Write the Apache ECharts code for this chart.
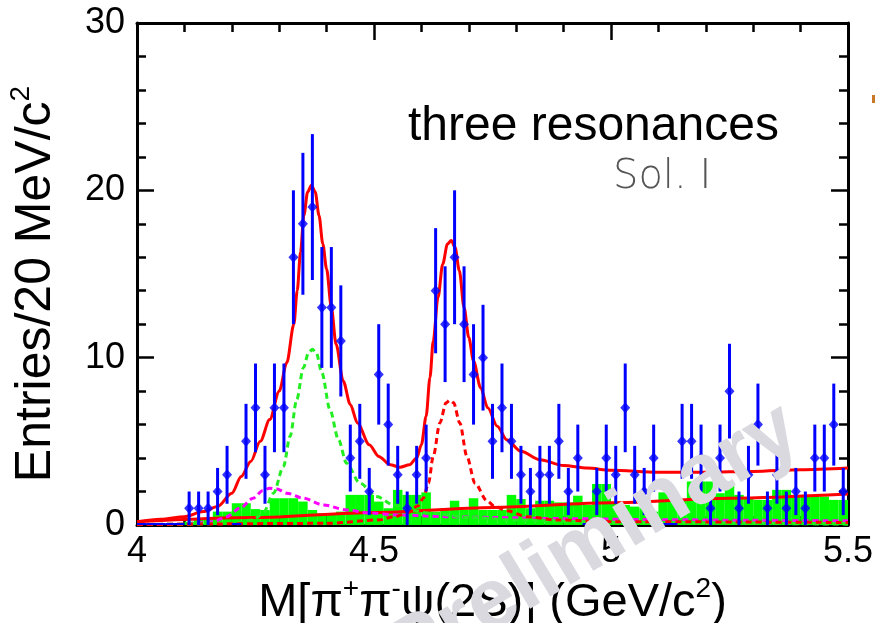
<!DOCTYPE html>
<html><head><meta charset="utf-8">
<script src="https://cdn.jsdelivr.net/npm/echarts@6/dist/echarts.min.js"></script>
<style>html,body{margin:0;padding:0;background:#fff}#c{width:876px;height:623px}</style>
</head><body><div id="c"></div>
<script>
// bin centers (20 MeV bins from 4.00 to 5.50 GeV)
const binCenters = [4.01,4.03,4.05,4.07,4.09,4.11,4.13,4.15,4.17,4.19,4.21,4.23,4.25,4.27,4.29,4.31,4.33,4.35,4.37,4.39,4.41,4.43,4.45,4.47,4.49,4.51,4.53,4.55,4.57,4.59,4.61,4.63,4.65,4.67,4.69,4.71,4.73,4.75,4.77,4.79,4.81,4.83,4.85,4.87,4.89,4.91,4.93,4.95,4.97,4.99,5.01,5.03,5.05,5.07,5.09,5.11,5.13,5.15,5.17,5.19,5.21,5.23,5.25,5.27,5.29,5.31,5.33,5.35,5.37,5.39,5.41,5.43,5.45,5.47,5.49];
const counts = [0,0,0,0,0,1,1,1,2,3,0,5,7,3,7,7,16,18,19,13,13,11,4,5,2,9,6,3,1,3,4,14,12,16,12,9,10,5,7,5,3,2,3,3,5,2,4,0,2,4,3,7,3,2,4,0,0,5,5,4,1,4,8,1,3,6,1,3,1,2,1,4,4,6,2];
const errs = [0,0,0,0,0,1,1,1,1.41,1.73,0,2.24,2.65,1.73,2.65,2.65,4,4.24,4.36,3.61,3.61,3.32,2,2.24,1.41,3,2.45,1.73,1,1.73,2,3.74,3.46,4,3.46,3,3.16,2.24,2.65,2.24,1.73,1.41,1.73,1.73,2.24,1.41,2,0,1.41,2,1.73,2.65,1.73,1.41,2,0,0,2.24,2.24,2,1,2,2.83,1,1.73,2.45,1,1.73,1,1.41,1,2,2,2.45,1.41];
const bkgHist = [0,0,0,0,0,0.2,0.3,0.4,0.8,0.8,1.3,1.3,0.95,0.9,1.6,1.6,1.6,1.4,0.9,0.7,0.6,0.8,1.8,1.8,1.8,1.4,1.0,2.1,1.8,1.8,1.95,0.8,1.0,1.45,0.9,1.6,0.9,0.9,0.9,1.8,1.55,1.0,1.45,1.45,1.35,1.35,1.75,1.2,2.45,2.45,1.3,1.2,1.1,1.0,0.8,1.95,1.95,1.5,2.6,2.6,2.6,1.9,2.45,1.8,1.6,1.5,1.5,2.1,2.1,1.8,1.8,1.8,1.7,1.5,1.5];
const halfBin = 0.01;

// fit curves: [mass, entries]
const totalFit = [[4.00,0.2],[4.05,0.35],[4.10,0.5],[4.14,0.8],[4.17,1.1],[4.20,1.9],[4.22,2.9],[4.24,3.8],[4.26,5.0],[4.28,6.3],[4.30,8.0],[4.316,9.7],[4.331,12.0],[4.338,14.0],[4.345,16.3],[4.352,18.5],[4.36,19.9],[4.368,20.3],[4.376,19.9],[4.384,18.5],[4.392,16.8],[4.40,15.3],[4.41,13.0],[4.42,10.8],[4.435,8.6],[4.45,7.2],[4.465,6.1],[4.49,4.8],[4.51,4.1],[4.534,3.6],[4.555,3.45],[4.575,3.6],[4.59,4.0],[4.60,4.8],[4.61,6.5],[4.618,8.8],[4.625,11.0],[4.635,13.6],[4.645,15.6],[4.655,16.8],[4.663,17.0],[4.671,16.6],[4.68,15.2],[4.69,13.0],[4.70,11.2],[4.71,9.8],[4.725,8.2],[4.74,7.0],[4.76,5.9],[4.78,5.1],[4.81,4.4],[4.85,3.9],[4.90,3.55],[4.95,3.4],[5.00,3.27],[5.10,3.15],[5.20,3.15],[5.30,3.2],[5.40,3.3],[5.50,3.4]];
const res1Fit = [[4.00,0.02],[4.10,0.05],[4.20,0.1],[4.245,0.3],[4.266,0.7],[4.288,1.9],[4.309,3.5],[4.323,5.3],[4.337,7.5],[4.351,9.4],[4.362,10.3],[4.37,10.5],[4.378,10.3],[4.39,9.1],[4.407,6.9],[4.425,5.1],[4.442,3.7],[4.47,2.5],[4.506,1.7],[4.541,1.2],[4.576,0.9],[4.62,0.7],[4.70,0.45],[4.80,0.3],[5.00,0.15],[5.50,0.05]];
const res2Fit = [[4.00,0.02],[4.10,0.05],[4.12,0.1],[4.161,0.2],[4.189,0.5],[4.217,1.0],[4.245,1.6],[4.265,2.05],[4.28,2.2],[4.295,2.15],[4.316,1.9],[4.351,1.6],[4.393,1.2],[4.442,0.9],[4.49,0.72],[4.55,0.6],[4.65,0.5],[4.75,0.45],[4.90,0.38],[5.10,0.32],[5.30,0.28],[5.50,0.25]];
const res3Fit = [[4.00,0.02],[4.40,0.1],[4.51,0.3],[4.544,0.5],[4.572,0.75],[4.593,1.15],[4.604,1.6],[4.615,2.5],[4.625,4.1],[4.639,6.1],[4.652,7.3],[4.66,7.45],[4.668,7.3],[4.681,6.1],[4.696,4.1],[4.713,2.5],[4.738,1.45],[4.755,1.1],[4.78,0.85],[4.822,0.5],[4.885,0.3],[5.00,0.2],[5.50,0.15]];
const bkgFit = [[4.00,0.2],[4.25,0.45],[4.50,0.75],[4.75,1.05],[5.00,1.33],[5.25,1.6],[5.50,1.85]];

const xTicks = {min:4, max:5.5, interval:0.5};
const yTicks = {min:0, max:30, interval:10};

const FONT = 'Liberation Sans';
const chart = echarts.init(document.getElementById('c'), null, {renderer:'canvas'});

function axisCommon(showLabel){
  return {
    axisLine:{show:true, onZero:false, lineStyle:{color:'#000', width:3}},
    axisTick:{show:true, inside:true, length:17, lineStyle:{color:'#000', width:2.5}},
    minorTick:{show:true, splitNumber:5, length:9, lineStyle:{color:'#000', width:2.5}},
    splitLine:{show:false}, minorSplitLine:{show:false},
    axisLabel:{show:showLabel, fontSize:36, color:'#000', fontFamily:FONT}
  };
}

const histData = binCenters.map((c,i)=>[c, bkgHist[i]]);
const errData = binCenters.map((c,i)=>[c, counts[i], errs[i]]);
const ptData = binCenters.map((c,i)=>[c, counts[i]]).filter(d=>d[1]>0);

function lineSeries(data, color, dashed, z){
  return {type:'line', data:data, showSymbol:false, symbol:'none', smooth:0.3, smoothMonotone:'x',
    lineStyle:{color:color, width:3, type: dashed ? [6,4] : 'solid'}, z:z, silent:true, clip:true};
}

const supStyle = {fontSize:28, fontFamily:FONT, color:'#000', verticalAlign:'top', lineHeight:30};

chart.setOption({
  animation:false,
  backgroundColor:'#fff',
  grid:{left:137, right:28, top:23, bottom:98, containLabel:false, outerBoundsMode:'none'},
  xAxis:[
    Object.assign({type:'value', position:'bottom', min:xTicks.min, max:xTicks.max, interval:xTicks.interval,
      name:'M[π{sup|+}π{sup|-}ψ(2S)] (GeV/c{sup|2})', nameLocation:'middle', nameGap:49,
      nameTextStyle:{fontSize:47, fontFamily:FONT, color:'#000', lineHeight:56, rich:{sup:supStyle}}
    }, axisCommon(true), {axisLabel:{show:true, fontSize:36, color:'#000', fontFamily:FONT, margin:9}}),
    Object.assign({type:'value', position:'top', min:xTicks.min, max:xTicks.max, interval:xTicks.interval}, axisCommon(false))
  ],
  yAxis:[
    Object.assign({type:'value', position:'left', min:yTicks.min, max:yTicks.max, interval:yTicks.interval,
      name:'Entries/20 MeV/c{sup|2}', nameLocation:'middle', nameGap:72, nameRotate:90,
      nameTextStyle:{fontSize:50, fontFamily:FONT, color:'#000', lineHeight:58, padding:[0,20,0,0], rich:{sup:supStyle}}
    }, axisCommon(true), {axisLabel:{show:true, fontSize:36, color:'#000', fontFamily:FONT, margin:12}}),
    Object.assign({type:'value', position:'right', min:yTicks.min, max:yTicks.max, interval:yTicks.interval}, axisCommon(false))
  ],
  series:[
    {type:'custom', data:histData, z:1, silent:true, clip:true,
      renderItem:function(params, api){
        const c = api.value(0), v = api.value(1);
        if (!(v>0)) return null;
        const p0 = api.coord([c-halfBin, v]);
        const p1 = api.coord([c+halfBin, 0]);
        return {type:'rect', shape:{x:p0[0], y:p0[1], width:p1[0]-p0[0], height:p1[1]-p0[1]},
          style:{fill:'#00ff00'}};
      }},
    lineSeries(bkgFit, '#ff0000', false, 3),
    lineSeries(res2Fit, '#ff00ff', true, 3),
    lineSeries(res1Fit, '#22ee22', true, 3),
    lineSeries(res3Fit, '#ff0000', true, 3),
    lineSeries(totalFit, '#ff0000', false, 4),
    {type:'custom', data:errData, z:5, silent:true, clip:true,
      renderItem:function(params, api){
        const c = api.value(0), v = api.value(1), e = api.value(2);
        if (v === 0) {
          const a = api.coord([c-halfBin, 0]), b = api.coord([c+halfBin, 0]);
          return {type:'line', shape:{x1:a[0], y1:a[1]-1, x2:b[0], y2:b[1]-1}, style:{stroke:'#0000ff', lineWidth:2}};
        }
        const a = api.coord([c, v-e]), b = api.coord([c, v+e]);
        return {type:'line', shape:{x1:a[0], y1:a[1], x2:b[0], y2:b[1]}, style:{stroke:'#0000ff', lineWidth:3}};
      }},
    {type:'scatter', data:ptData, symbol:'diamond', symbolSize:[10,11], itemStyle:{color:'#0000ff'}, z:6, silent:true}
  ],
  graphic:[
    {type:'text', x:408, y:127, z:50, style:{text:'three resonances', fontSize:48, fontFamily:FONT, fill:'#000', align:'left', verticalAlign:'middle'}},
    {type:'text', x:613, y:178, z:50, style:{text:'Sol. I', fontSize:40, fontFamily:'DejaVu Sans', fontWeight:200, fill:'#555', align:'left', verticalAlign:'middle'}},
    {type:'text', x:594, y:543, rotation:31*Math.PI/180, z:100, style:{text:'Preliminary', fontSize:85, fontWeight:'bold', fontFamily:FONT, fill:'#d9d9df', align:'center', verticalAlign:'middle'}},
    {type:'rect', shape:{x:872, y:95, width:3, height:8}, style:{fill:'#c87828'}, z:50}
  ]
});
</script></body></html>
